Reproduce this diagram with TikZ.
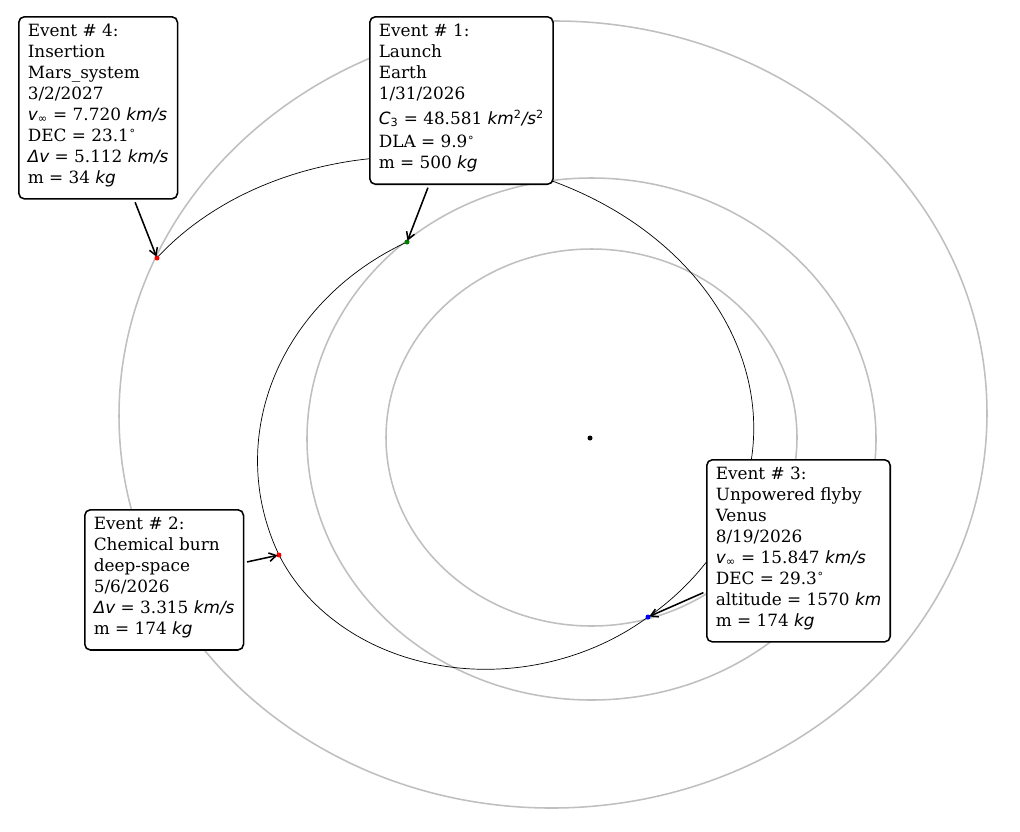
\documentclass[tikz,border=0pt]{standalone}
\usepackage{fontspec}
\setmainfont{DejaVu Serif}
\newfontfamily\mtxtfont{DejaVu Sans}[ItalicFont={DejaVu Sans Oblique}]
\usepackage{xcolor}
\usepackage{tikz}
\usetikzlibrary{arrows.meta,positioning}
\definecolor{orbgray}{RGB}{191,191,191}
\definecolor{launchgreen}{RGB}{0,128,0}
\definecolor{flybyblue}{RGB}{0,0,255}
\definecolor{burnred}{RGB}{255,0,0}
\newcommand{\mi}[1]{{\mtxtfont\itshape #1}}
\newcommand{\msub}[1]{\textsubscript{\mtxtfont #1}}
\newcommand{\msup}[1]{\textsuperscript{\mtxtfont #1}}
\newcommand{\degr}{\textsuperscript{\mtxtfont ∘}}

\begin{document}
\begin{tikzpicture}[x=0.025cm,y=-0.025cm]
    \tikzset{orb/.style={draw=orbgray,line width=1.1pt},
      traj/.style={draw=black,line width=0.5pt},
      evbox/.style={draw=black,fill=white,line width=1.1pt,rounded corners=4pt,align=left,anchor=north west,inner xsep=6.4pt,inner ysep=5pt,font=\fontsize{12}{14.9}\selectfont,execute at end node={\rule[-6.3pt]{0pt}{0pt}}},
      evarrow/.style={-{Straight Barb[length=5pt,width=6pt]},line width=1.1pt,shorten <=2pt,shorten >=1pt}}
    \useasboundingbox (0,0) rectangle (1020,831);
    % orbits
    \draw[orb] (591.5,437.5) ellipse [x radius=205.5, y radius=188.5];
    \draw[orb] (591.5,439) ellipse [x radius=284.5, y radius=261];
    \draw[orb,rotate around={1:(553,414.5)}] (553,414.5) ellipse [x radius=434, y radius=393.5];
    % trajectory legs (conics about the sun)
    \draw[traj] plot[domain=130.58:202.30,samples=90,smooth,variable=\t]
      ({590+284.5*cos(\t)/(1.1152+0.2565*cos(\t)+0.0830*sin(\t))},
       {438-261*sin(\t)/(1.1152+0.2565*cos(\t)+0.0830*sin(\t))});
    \draw[traj] plot[domain=202.30:286.56,samples=90,smooth,variable=\t]
      ({590+284.5*cos(\t)/(1.4153+0.5413*cos(\t)+0.1793*sin(\t))},
       {438-261*sin(\t)/(1.4153+0.5413*cos(\t)+0.1793*sin(\t))});
    \draw[traj] plot[domain=-73.44:155.62,samples=200,smooth,variable=\t]
      ({590+284.5*cos(\t)/(1.1587+0.5812*cos(\t)-0.0753*sin(\t))},
       {438-261*sin(\t)/(1.1587+0.5812*cos(\t)-0.0753*sin(\t))});
    % events
    \coordinate (launch) at (407,242);
    \coordinate (burn) at (279,555);
    \coordinate (flyby) at (648,617);
    \coordinate (arrival) at (157,258);
    \coordinate (sun) at (590,438);
    \fill[black] (sun) circle (2.5);
    \fill[launchgreen] (launch) circle (2.5);
    \fill[burnred] (burn) circle (2.5);
    \fill[flybyblue] (flyby) circle (2.5);
    \fill[burnred] (arrival) circle (2.5);
    \node[evbox] (e1) at (369,16) {Event \# 1:\\Launch\\Earth\\1/31/2026\\[3pt]\mi{C}\msub{3} = 48.581 \mi{km}\msup{2}\mi{/s}\msup{2}\\[1.5pt]DLA = 9.9\degr\\m = 500 \mi{kg}};
    \node[evbox] (e2) at (84,509) {Event \# 2:\\Chemical burn\\deep-space\\5/6/2026\\\mi{Δv} = 3.315 \mi{km/s}\\m = 174 \mi{kg}};
    \node[evbox] (e3) at (706,459) {Event \# 3:\\Unpowered flyby\\Venus\\8/19/2026\\\mi{v}\msub{∞} = 15.847 \mi{km/s}\\DEC = 29.3\degr\\altitude = 1570 \mi{km}\\m = 174 \mi{kg}};
    \node[evbox] (e4) at (18,16) {Event \# 4:\\Insertion\\Mars\_system\\3/2/2027\\\mi{v}\msub{∞} = 7.720 \mi{km/s}\\DEC = 23.1\degr\\\mi{Δv} = 5.112 \mi{km/s}\\m = 34 \mi{kg}};
    \draw[evarrow] (e1) -- (launch);
    \draw[evarrow] (e2) -- (burn);
    \draw[evarrow] (e3) -- (flyby);
    \draw[evarrow] (e4) -- (arrival);
\end{tikzpicture}
\end{document}
